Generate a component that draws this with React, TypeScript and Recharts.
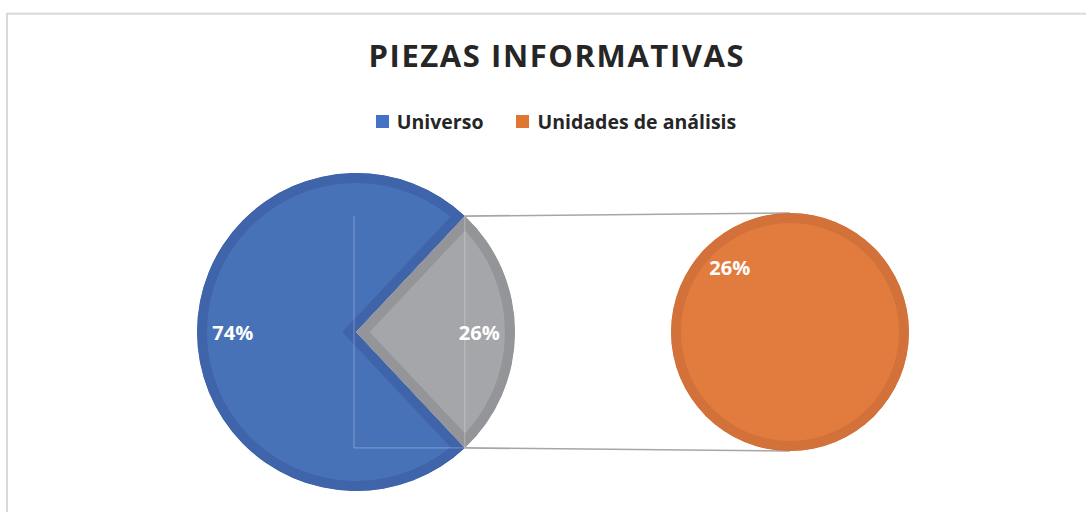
import React from 'react';
import { PieChart, Pie, Cell, Legend, Sector, Customized } from 'recharts';

// ---- data ----
const title = 'PIEZAS INFORMATIVAS';
const mainNames = ['Universo', 'Resto'];
const mainValues = [74, 26];
const mainLabels = ['74%', '26%'];
const subNames = ['Unidades de análisis'];
const subValues = [26];
const subLabels = ['26%'];
const legendNames = ['Universo', 'Unidades de análisis'];

const mainData = mainNames.map((n, i) => ({ name: n, value: mainValues[i] }));
const subData = subNames.map((n, i) => ({ name: n, value: subValues[i] }));

// ---- style ----
const FONT = '"Open Sans", "DejaVu Sans", sans-serif';
const mainFill = ['#4872B8', '#A5A6A9'];
const mainStroke = ['#3F64AA', '#939598'];
const subFill = ['#E27C3E'];
const subStroke = ['#D2713A'];
const legendColors = ['#4472C4', '#E07634'];

const W = 1086;
const H = 512;
const CY = 332;
const MAIN_CX = 356;
const MAIN_R = 159;
const SUB_CX = 790;
const SUB_R = 119;

const total = mainValues.reduce((a, b) => a + b, 0);
const half = (mainValues[1] / total) * 180; // half-angle of the split slice
const RAD = Math.PI / 180;

const InnerStrokeSector = (p: any) => {
  const id = `clip-${String(p.name).replace(/[^a-zA-Z]/g, '')}-${Math.round(p.startAngle * 10)}`;
  const full = Math.abs(p.endAngle - p.startAngle) >= 359;
  if (full) {
    return (
      <g>
        <defs>
          <clipPath id={id}>
            <circle cx={p.cx} cy={p.cy} r={p.outerRadius} />
          </clipPath>
        </defs>
        <circle
          cx={p.cx}
          cy={p.cy}
          r={p.outerRadius}
          fill={p.fill}
          stroke={p.stroke}
          strokeWidth={20}
          clipPath={`url(#${id})`}
        />
      </g>
    );
  }
  return (
    <g>
      <defs>
        <clipPath id={id}>
          <Sector cx={p.cx} cy={p.cy} innerRadius={0} outerRadius={p.outerRadius} startAngle={p.startAngle} endAngle={p.endAngle} />
        </clipPath>
      </defs>
      <Sector
        cx={p.cx}
        cy={p.cy}
        innerRadius={0}
        outerRadius={p.outerRadius}
        startAngle={p.startAngle}
        endAngle={p.endAngle}
        fill={p.fill}
        stroke={p.stroke}
        strokeWidth={20}
        strokeLinejoin="miter"
        clipPath={`url(#${id})`}
      />
    </g>
  );
};

const makeLabel = (labels: string[], factor: number, guideIndex: number) => (p: any) => {
  const r = p.outerRadius * factor;
  const x = p.cx + r * Math.cos(-p.midAngle * RAD);
  const y = p.cy + r * Math.sin(-p.midAngle * RAD);
  let guide = null;
  if (p.index === guideIndex) {
    const a1 = p.startAngle * RAD;
    const a2 = p.endAngle * RAD;
    const gx = p.cx + p.outerRadius * Math.cos(a1);
    const gyTop = p.cy - p.outerRadius * Math.sin(a2);
    const gyBot = p.cy - p.outerRadius * Math.sin(a1);
    guide = (
      <polyline
        points={`${p.cx - 2},${gyTop} ${p.cx - 2},${gyBot} ${gx},${gyBot} ${gx},${gyTop}`}
        fill="none"
        stroke="#FFFFFF"
        strokeOpacity={0.3}
        strokeWidth={1}
      />
    );
  }
  return (
    <g>
      {guide}
      <text
        x={x}
        y={y}
        fill="#FFFFFF"
        textAnchor="middle"
        dominantBaseline="central"
        fontFamily={FONT}
        fontWeight={700}
        fontSize={20}
      >
        {labels[p.index]}
      </text>
    </g>
  );
};

const renderLegend = () => (
  <div
    style={{
      display: 'flex',
      justifyContent: 'center',
      alignItems: 'center',
      paddingLeft: 26,
      fontFamily: FONT,
      fontWeight: 700,
      fontSize: 19.5,
      color: '#262626',
      lineHeight: 'normal',
    }}
  >
    {legendNames.map((n, i) => (
      <div key={n} style={{ display: 'flex', alignItems: 'center', marginLeft: i === 0 ? 0 : 33 }}>
        <span style={{ width: 13, height: 13, background: legendColors[i], marginRight: 8, display: 'inline-block' }} />
        <span>{n}</span>
      </div>
    ))}
  </div>
);

const vx = MAIN_CX + MAIN_R * Math.cos(half * RAD);
const vyTop = CY - MAIN_R * Math.sin(half * RAD);
const vyBot = CY + MAIN_R * Math.sin(half * RAD);

const Background = () => (
  <g>
    <rect x={7} y={13.7} width={1200} height={700} fill="none" stroke="#D9D9D9" strokeWidth={2} />
    <text
      x={556}
      y={67}
      textAnchor="middle"
      fontFamily={FONT}
      fontWeight={700}
      fontSize={31}
      fill="#262626"
      textLength={375}
      lengthAdjust="spacing"
    >
      {title}
    </text>
    <line x1={vx} y1={vyTop} x2={SUB_CX} y2={CY - SUB_R} stroke="#A6A6A6" strokeWidth={1.6} />
    <line x1={vx} y1={vyBot} x2={SUB_CX} y2={CY + SUB_R} stroke="#A6A6A6" strokeWidth={1.6} />
  </g>
);

export default function App() {
  return (
    <div style={{ position: 'absolute', left: 0, top: 0, width: W, height: H, background: '#FFFFFF' }}>
      <PieChart width={W} height={H} margin={{ top: 0, right: 0, bottom: 0, left: 0 }}>
        <Customized component={Background} />
        <Pie
          data={mainData}
          dataKey="value"
          nameKey="name"
          cx={MAIN_CX}
          cy={CY}
          outerRadius={MAIN_R}
          startAngle={half}
          endAngle={half + 360}
          isAnimationActive={false}
          shape={InnerStrokeSector}
          label={makeLabel(mainLabels, 0.775, 1)}
          labelLine={false}
        >
          {mainData.map((d, i) => (
            <Cell key={d.name} fill={mainFill[i]} stroke={mainStroke[i]} strokeWidth={10} />
          ))}
        </Pie>
        <Pie
          data={subData}
          dataKey="value"
          nameKey="name"
          cx={SUB_CX}
          cy={CY}
          outerRadius={SUB_R}
          startAngle={-half}
          endAngle={360 - half}
          isAnimationActive={false}
          shape={InnerStrokeSector}
          label={makeLabel(subLabels, 0.74, -1)}
          labelLine={false}
        >
          {subData.map((d, i) => (
            <Cell key={d.name} fill={subFill[i]} stroke={subStroke[i]} strokeWidth={10} />
          ))}
        </Pie>
        <Legend
          content={renderLegend}
          verticalAlign="bottom"
          wrapperStyle={{ top: 108, bottom: 'auto', left: 0, width: W }}
        />
      </PieChart>
    </div>
  );
}
